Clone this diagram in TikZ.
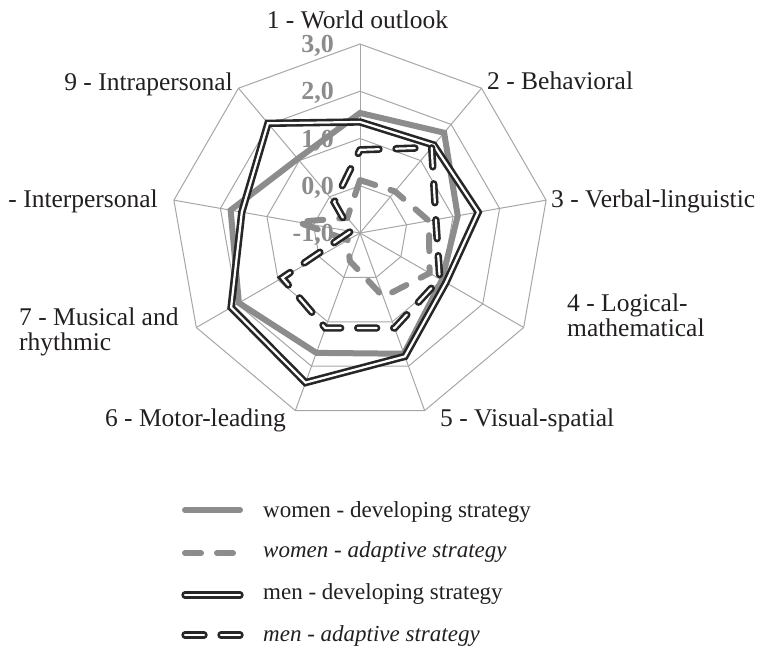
\documentclass[tikz,border=0pt]{standalone}
\usepackage{fontspec}
\setmainfont{Liberation Serif}
\usetikzlibrary{positioning}

\definecolor{gridgray}{RGB}{166,166,166}
\definecolor{womengray}{RGB}{140,140,140}
\definecolor{mendark}{RGB}{38,38,38}
\definecolor{textdark}{RGB}{35,31,32}

\begin{document}
\begin{tikzpicture}[x=1pt, y=1pt,
     every node/.style = {inner sep=0pt, text=textdark,
         font=\fontsize{25.5}{25}\selectfont},
     gridline/.style = {draw=gridgray, line width=1pt},
     ringlabel/.style = {anchor=east, text=womengray,
         font=\fontsize{26}{25}\selectfont\bfseries},
     axislabel/.style = {align=left, anchor=west},
     legendlabel/.style = {anchor=base west, font=\fontsize{23}{25}\selectfont},
     womendev/.style = {draw=womengray, line width=6pt},
     womenadapt/.style = {draw=womengray, line width=6pt, line cap=round,
         dash pattern=on 16pt off 16pt},
     mendev/.style = {draw=mendark, double=white, line width=2.6pt,
         double distance=2.2pt},
     menadapt/.style = {mendev, line cap=round, dash pattern=on 19pt off 17pt}]
\useasboundingbox (0,0) rectangle (763,653);

\begin{scope}[shift={(360,420)}]
  % rings and spokes
  \foreach \r in {1,...,4}
    \draw[gridline] (90:{47.25*\r}) \foreach \a in {1,...,8} {-- ({90-40*\a}:{47.25*\r})} -- cycle;
  \coordinate (c) at (0,0);
  \foreach \a in {0,...,8}
    \draw[gridline] (c) -- ({90-40*\a}:189);
  % scale
  \foreach \t [count=\i from 0] in {{-1,0},{0,0},{1,0},{2,0},{3,0}}
    \node[ringlabel] (ring\i) at (-26,{47.25*\i-2}) {\t};
  % series
  \foreach \v [count=\k] in {1.54,1.77,1.1,1.0,1.72,1.7,1.96,1.78,1.05}
    \coordinate (wd\k) at ({130-40*\k}:{(\v+1)*47.25});
  \foreach \v [count=\k] in {0.12,0.15,0.48,0.7,0.44,-0.37,-0.7,0.35,-0.58}
    \coordinate (wa\k) at ({130-40*\k}:{(\v+1)*47.25});
  \foreach \v [count=\k] in {1.35,1.43,1.54,1.1,1.78,2.37,2.15,1.54,2.03}
    \coordinate (md\k) at ({130-40*\k}:{(\v+1)*47.25});
  \foreach \v [count=\k] in {0.76,1.36,0.63,0.95,1.14,1.14,0.9,-0.8,-0.15}
    \coordinate (ma\k) at ({130-40*\k}:{(\v+1)*47.25});
  \draw[womendev] (wd1) \foreach \k in {2,...,9} {-- (wd\k)} -- cycle;
  \draw[womenadapt] (wa1) \foreach \k in {2,...,9} {-- (wa\k)} -- cycle;
  \draw[mendev] (md1) \foreach \k in {2,...,9} {-- (md\k)} -- cycle;
  \draw[menadapt] (ma1) \foreach \k in {2,...,9} {-- (ma\k)} -- cycle;
\end{scope}

% axis labels
\node[anchor=base] (lab1) at (357.5,624) {1 - World outlook};
\node[anchor=base west] (lab2) at (487,563) {2 - Behavioral};
\node[anchor=base west] (lab3) at (551,445) {3 - Verbal-linguistic};
\node[axislabel] (lab4) at (567,338) {4 - Logical-\\mathematical};
\node[anchor=base west] (lab5) at (440,226) {5 - Visual-spatial};
\node[anchor=base east] (lab6) at (286,226) {6 - Motor-leading};
\node[axislabel] (lab7) at (19,321) {7 - Musical and\\rhythmic};
\node[anchor=base east] (lab8) at (158,445) {- Interpersonal};
\node[anchor=base east] (lab9) at (233,562) {9 - Intrapersonal};

% legend
\coordinate (s1a) at (185,143); \coordinate (s1b) at (240,143);
\coordinate (s2a) at (185,100); \coordinate (s2b) at (235,100);
\coordinate (s3a) at (185,58);  \coordinate (s3b) at (240,58);
\coordinate (s4a) at (185,18);  \coordinate (s4b) at (240,18);
\draw[womendev, line cap=round] (s1a) -- (s1b);
\draw[womenadapt] (s2a) -- (s2b);
\draw[mendev, line cap=round] (s3a) -- (s3b);
\draw[menadapt] (s4a) -- (s4b);
\node[legendlabel] (leg1) at (263,135) {women - developing strategy};
\node[legendlabel] (leg2) at (263,95) {\itshape women - adaptive strategy};
\node[legendlabel] (leg3) at (263,53) {men - developing strategy};
\node[legendlabel] (leg4) at (263,11) {\itshape men - adaptive strategy};
\end{tikzpicture}
\end{document}
